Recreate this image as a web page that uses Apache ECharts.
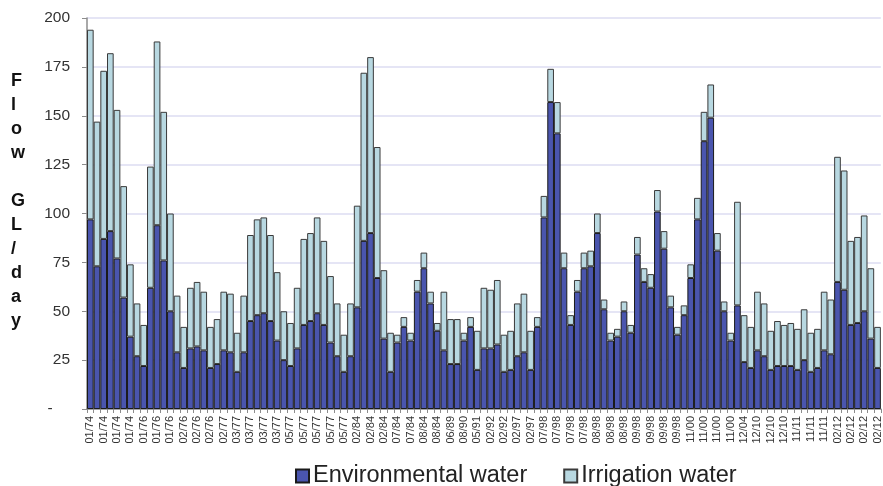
<!DOCTYPE html>
<html>
<head>
<meta charset="utf-8">
<script src="https://cdn.jsdelivr.net/npm/echarts@6/dist/echarts.min.js"></script>
<style>
  html, body { margin: 0; padding: 0; background: #ffffff; }
  #chart { width: 883px; height: 486px; }
</style>
</head>
<body>
<div id="chart"></div>
<script>
// Tick labels shown on every other bar (bars 1,3,5,...)
var tickLabels = [
  '01/74','01/74','01/74','01/74','01/76','01/76','01/76','02/76','02/76','02/76',
  '02/77','03/77','03/77','03/77','03/77','05/77','05/77','05/77','05/77','05/77',
  '02/84','02/84','02/84','07/84','07/84','08/84','08/84','06/89','08/90','05/91',
  '02/92','02/92','02/97','02/97','07/98','07/98','07/98','07/98','08/98','08/98',
  '08/98','09/98','09/98','09/98','09/98','11/00','11/00','11/00','11/00','12/04',
  '12/10','12/10','12/10','11/11','11/11','11/11','02/12','02/12','02/12','02/12'
];

var environmentalWater = [
  97,73,87,91,77,57,37,27,22,62,
  94,76,50,29,21,31,32,30,21,23,
  30,29,19,29,45,48,49,45,35,25,
  22,31,43,45,49,43,34,27,19,27,
  52,86,90,67,36,19,34,42,35,60,
  72,54,40,30,23,23,35,42,20,31,
  31,33,19,20,27,29,20,42,98,157,
  141,72,43,60,72,73,90,51,35,37,
  50,39,79,65,62,101,82,52,38,48,
  67,97,137,149,81,50,35,53,24,21,
  30,27,20,22,22,22,20,25,19,21,
  30,28,65,61,43,44,50,36,21
];

var irrigationWater = [
  97,74,86,91,76,57,37,27,21,62,
  94,76,50,29,21,31,33,30,21,23,
  30,30,20,29,44,49,49,44,35,25,
  22,31,44,45,49,43,34,27,19,27,
  52,86,90,67,35,20,4,5,4,6,
  8,6,4,30,23,23,4,5,20,31,
  30,33,19,20,27,30,20,5,11,17,
  16,8,5,6,8,8,10,5,4,4,
  5,4,9,7,7,11,9,6,4,5,
  7,11,15,17,9,5,4,53,24,21,
  30,27,20,23,21,22,21,26,20,20,
  30,28,64,61,43,44,49,36,21
];

var yTicks = { min: 0, max: 200, interval: 25 };

var categories = environmentalWater.map(function (v, i) {
  return tickLabels[Math.floor(i / 2)];
});

var chart = echarts.init(document.getElementById('chart'), null, { renderer: 'canvas' });

chart.setOption({
  animation: false,
  backgroundColor: '#ffffff',
  grid: { left: 87, right: 0, top: 18, bottom: 77, containLabel: false },
  legend: {
    data: ['Environmental water', 'Irrigation water'],
    left: 290,
    top: 459,
    icon: 'rect',
    itemWidth: 13,
    itemHeight: 13,
    itemGap: 36,
    textStyle: { fontFamily: 'Liberation Sans', fontSize: 23.5, color: '#222222', padding: [0, 0, 0, -1] }
  },
  graphic: [{
    type: 'text',
    left: 11,
    top: 69,
    style: {
      text: 'F\nl\no\nw\n\nG\nL\n/\nd\na\ny',
      font: 'bold 18px "Liberation Sans"',
      lineHeight: 24,
      fill: '#111111',
      align: 'center'
    }
  }],
  xAxis: {
    type: 'category',
    data: categories,
    boundaryGap: true,
    axisLine: { show: true, lineStyle: { color: '#8c8c8c', width: 1.5 } },
    axisTick: { show: true, interval: 0, length: 4, lineStyle: { color: '#8c8c8c' } },
    axisLabel: {
      interval: 1,
      rotate: 90,
      margin: 7,
      fontFamily: 'Liberation Sans',
      fontSize: 11,
      color: '#333333'
    },
    splitLine: { show: false }
  },
  yAxis: {
    type: 'value',
    min: yTicks.min,
    max: yTicks.max,
    interval: yTicks.interval,
    axisLine: { show: true, lineStyle: { color: '#8c8c8c', width: 1.5 } },
    axisTick: { show: true, length: 5, lineStyle: { color: '#8c8c8c' } },
    axisLabel: {
      margin: 17,
      fontFamily: 'Liberation Sans',
      fontSize: 15.5,
      color: '#333333',
      formatter: function (v) { return v === 0 ? '-    ' : String(v); }
    },
    splitLine: { show: true, lineStyle: { color: '#dcdcf2', width: 1.5 } }
  },
  series: [
    {
      name: 'Environmental water',
      type: 'bar',
      stack: 'flow',
      data: environmentalWater,
      barCategoryGap: '0%',
      itemStyle: { color: '#4a55ae', borderColor: '#1a1a1a', borderWidth: 1 }
    },
    {
      name: 'Irrigation water',
      type: 'bar',
      stack: 'flow',
      data: irrigationWater,
      barCategoryGap: '0%',
      itemStyle: { color: '#b8d8e1', borderColor: '#3a3a3a', borderWidth: 1 }
    }
  ]
});
</script>
</body>
</html>
